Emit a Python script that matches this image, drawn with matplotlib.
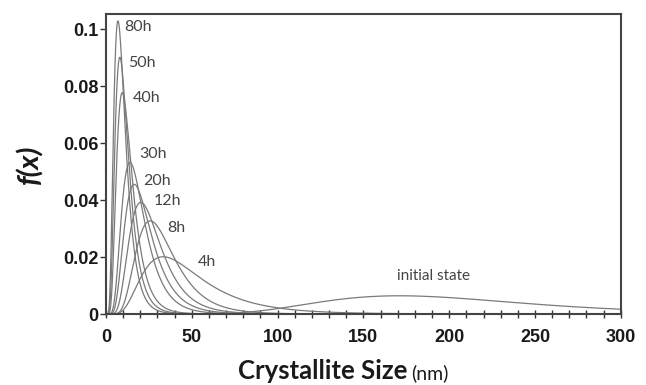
import numpy as np
import matplotlib
matplotlib.use("Agg")
import matplotlib.pyplot as plt
from matplotlib.ticker import MultipleLocator, FixedLocator

# milling time labels with the mode (nm) and peak height of each log-normal size distribution
labels = ["80h", "50h", "40h", "30h", "20h", "12h", "8h", "4h", "initial state"]
modes = [7.0, 8.1, 9.5, 14.0, 16.5, 20.3, 25.8, 33.3, 171.0]
peaks = [0.1029, 0.0901, 0.0777, 0.0532, 0.0455, 0.0392, 0.0327, 0.0201, 0.0064]

# where each label sits (x in nm, y in f(x))
label_x = [10.5, 13.0, 15.5, 19.3, 21.5, 27.9, 36.0, 53.5, 191.0]
label_y = [0.1007, 0.0882, 0.0757, 0.0563, 0.0467, 0.0395, 0.0302, 0.0182, 0.0135]

y_ticks = [0, 0.02, 0.04, 0.06, 0.08, 0.1]
y_tick_labels = ["0", "0.02", "0.04", "0.06", "0.08", "0.1"]


def sigma_for(mode, peak):
    # peak of a log-normal: exp(-s^2/2) / (mode * s * sqrt(2 pi)); solve for s
    target = mode * peak * np.sqrt(2 * np.pi)
    lo, hi = 0.01, 3.0
    for _ in range(80):
        mid = 0.5 * (lo + hi)
        if np.exp(-mid ** 2 / 2) / mid > target:
            lo = mid
        else:
            hi = mid
    return 0.5 * (lo + hi)


def lognormal(x, mode, peak):
    s = sigma_for(mode, peak)
    mu = np.log(mode) + s ** 2
    return np.exp(-(np.log(x) - mu) ** 2 / (2 * s ** 2)) / (x * s * np.sqrt(2 * np.pi))


fig = plt.figure(figsize=(6.46, 3.85), dpi=100)
ax = fig.add_axes([0.164, 0.1844, 0.797, 0.7792])

x = np.linspace(0.05, 300, 3000)
for m, p in zip(modes, peaks):
    ax.plot(x, lognormal(x, m, p), color="#7a7a7a", lw=0.9)

for lab, lx, ly in zip(labels, label_x, label_y):
    ha = "center" if lab == "initial state" else "left"
    fs = 11 if lab == "initial state" else 11.5
    ax.text(lx, ly, lab, ha=ha, va="center", fontsize=fs, color="#444444", family="Lato")

ax.set_xlim(0, 300)
ax.set_ylim(0, 0.1053)

ax.xaxis.set_major_locator(MultipleLocator(50))
ax.xaxis.set_minor_locator(MultipleLocator(10))
ax.yaxis.set_major_locator(FixedLocator(y_ticks))
ax.set_yticklabels(y_tick_labels)

ax.tick_params(axis="x", which="both", direction="inout", length=6, width=1,
               color="#333333", pad=8)
ax.tick_params(axis="y", which="major", direction="out", length=4, width=1,
               color="#333333", pad=1.5)
ax.tick_params(axis="both", labelsize=13, labelcolor="#1a1a1a")
for lbl in ax.get_xticklabels() + ax.get_yticklabels():
    lbl.set_fontweight("bold")
    lbl.set_family("Liberation Sans")

for sp in ax.spines.values():
    sp.set_color("#444444")
    sp.set_linewidth(1.5)

# axis titles: bold part plus unit in regular weight, sharing one baseline
t = fig.text(407 / 646, 6 / 385, "Crystallite Size", ha="right", va="baseline",
             fontsize=18.5, fontweight="bold", family="Lato", color="#1a1a1a")
fig.text(411 / 646, 6 / 385, "(nm)", ha="left", va="baseline",
         fontsize=14, family="Lato", color="#1a1a1a")
fig.text(30 / 646, 1 - 164 / 385, "f(x)", rotation=90, ha="center", va="center",
         fontsize=21, fontweight="bold", fontstyle="italic", family="Lato", color="#1a1a1a")

fig.savefig("out.png", dpi=100)
